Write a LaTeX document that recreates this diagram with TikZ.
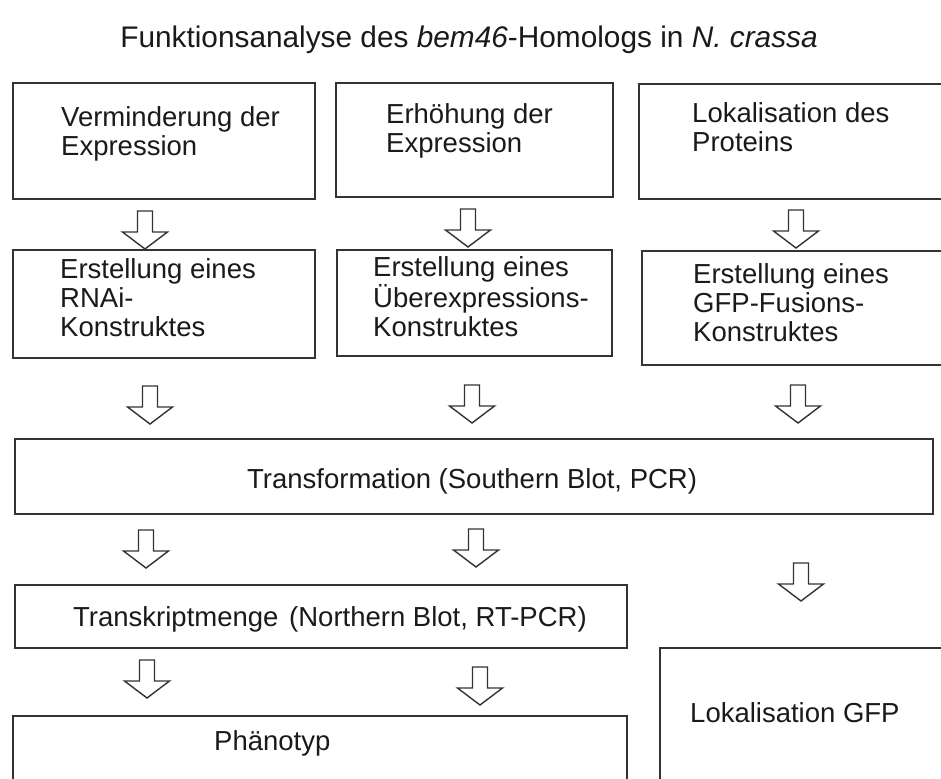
\documentclass[tikz,border=0pt]{standalone}
\usepackage{fontspec}
\setmainfont{Liberation Sans}
\definecolor{linegray}{HTML}{333333}
\definecolor{textblack}{HTML}{1A1A1A}
\newcommand{\mlines}[1]{\begin{tabular}[t]{@{}l@{}}#1\end{tabular}}
\begin{document}
\begin{tikzpicture}[x=1pt,y=-1pt,
  box/.style={draw=linegray, line width=1.7pt, inner sep=0pt, outer sep=0pt},
  txt/.style={inner sep=0pt, anchor=base west, text=textblack, font=\fontsize{27.5}{29}\selectfont},
  blockarr/.pic={\draw[line width=1.4pt, draw=linegray, line join=miter, fill=white]
     (-7.5,0) -- (7.5,0) -- (7.5,21) -- (22.5,21) -- (0,38) -- (-22.5,21) -- (-7.5,21) -- cycle;}
]
\useasboundingbox (0,0) rectangle (941,778);
\clip (0,0) rectangle (941,778);
\fill[white] (0,0) rectangle (941,778);

% title
\node[inner sep=0pt, anchor=base, text=textblack, font=\fontsize{29.8}{32}\selectfont] (title) at (469,48)
  {Funktionsanalyse des \textit{bem46}-Homologs in \textit{N. crassa}};

% boxes
\node[box, minimum width=302pt, minimum height=116pt] (b1) at (164,141) {};
\node[box, minimum width=277pt, minimum height=114pt] (b2) at (474.5,140) {};
\node[box, minimum width=316pt, minimum height=115pt] (b3) at (797,141.5) {};
\node[box, minimum width=302pt, minimum height=108pt] (b4) at (164,304) {};
\node[box, minimum width=275pt, minimum height=106pt] (b5) at (474.5,303) {};
\node[box, minimum width=313pt, minimum height=114pt] (b6) at (798.5,308) {};
\node[box, minimum width=918pt, minimum height=75pt] (tr) at (474,476.5) {};
\node[box, minimum width=612pt, minimum height=63pt] (tk) at (321,616.5) {};
\node[box, minimum width=614pt, minimum height=84pt] (ph) at (320,758) {};
\node[box, minimum width=295pt, minimum height=152pt] (gfp) at (807.5,724) {};

% texts
\node[txt] (t1) at (61,127) {\mlines{Verminderung der\\Expression}};
\node[txt] (t2) at (386,124) {\mlines{Erhöhung der\\Expression}};
\node[txt] (t3) at (692,123) {\mlines{Lokalisation des\\Proteins}};
\node[txt] (t4) at (60,278) {\mlines{Erstellung eines\\RNAi-\\Konstruktes}};
\node[txt] (t5) at (373,276) {\mlines{Erstellung eines\\Überexpressions-\\Konstruktes}};
\node[txt] (t6) at (693,283) {\mlines{Erstellung eines\\GFP-Fusions-\\Konstruktes}};
\node[txt] (ttr) at (247,488) {Transformation (Southern Blot, PCR)};
\node[txt] (ttk) at (73,626) {Transkriptmenge};
\node[txt] (ttk2) at (289,626) {(Northern Blot, RT-PCR)};
\node[txt] (tph) at (214,750) {Phänotyp};
\node[txt] (tgfp) at (690,722) {Lokalisation GFP};

% block arrows
\coordinate (a11) at (145,211);
\coordinate (a12) at (468,209);
\coordinate (a13) at (796,210);
\coordinate (a21) at (150,386);
\coordinate (a22) at (472,385);
\coordinate (a23) at (798,385);
\coordinate (a31) at (146,530);
\coordinate (a32) at (476,529);
\coordinate (a33) at (801,563);
\coordinate (a41) at (147,660);
\coordinate (a42) at (480,667);
\foreach \c in {a11,a12,a13,a21,a22,a23,a31,a32,a33,a41,a42}
  \pic at (\c) {blockarr};
\end{tikzpicture}
\end{document}
